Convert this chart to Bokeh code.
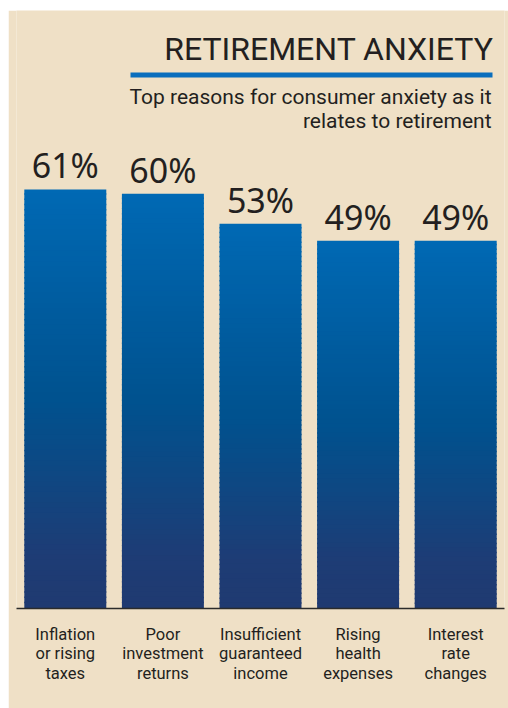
from bokeh.plotting import figure
from bokeh.models import ColumnDataSource, Range1d, Label, BoxAnnotation, Spacer
from bokeh.layouts import row, column
from bokeh.embed import file_html
from bokeh.resources import INLINE
from bokeh.core.properties import value
import numpy as np

# ---- data ----
categories = [
    "Inflation\nor rising\ntaxes",
    "Poor\ninvestment\nreturns",
    "Insufficient\nguaranteed\nincome",
    "Rising\nhealth\nexpenses",
    "Interest\nrate\nchanges",
]
percent = [61, 60, 53, 49, 49]
value_labels = [f"{v}%" for v in percent]
title_text = "RETIREMENT ANXIETY"
subtitle_lines = ["Top reasons for consumer anxiety as it", "relates to retirement"]

# ---- style ----
BG = "#EFE0C6"
INK = "#231F20"
SANS = "Roboto"
stops = [(0.0, "#0069B4"), (0.5, "#00528F"), (0.88, "#1E3C75"), (1.0, "#1F3A71")]


def hex2rgb(h):
    h = h.lstrip("#")
    return np.array([int(h[i:i + 2], 16) for i in (0, 2, 4)], dtype=float)


def grad(t):
    for (t0, c0), (t1, c1) in zip(stops[:-1], stops[1:]):
        if t <= t1:
            f = (t - t0) / (t1 - t0)
            c = hex2rgb(c0) * (1 - f) + hex2rgb(c1) * f
            return "#%02x%02x%02x" % tuple(int(round(v)) for v in c)
    return stops[-1][1]


y_start, y_end = -37.0, 102.85

p = figure(
    width=500, height=698,
    x_range=categories, y_range=Range1d(y_start, y_end),
    output_backend="svg", toolbar_location=None,
    min_border_left=8, min_border_right=4, min_border_top=0, min_border_bottom=100,
    y_axis_location=None,
)
p.background_fill_color = BG
p.border_fill_color = BG
p.outline_line_color = None
p.grid.visible = False

# gradient bars as stacked slices
N = 80
overlap = 0.35
xs, bots, tops, cols = [], [], [], []
for c, v in zip(categories, percent):
    h = v - y_start
    for k in range(N):
        t_top = v - h * k / N
        tops.append(t_top if k == 0 else t_top + overlap)
        bots.append(v - h * (k + 1) / N)
        cols.append(grad((k + 0.5) / N))
        xs.append(c)
src = ColumnDataSource(dict(x=xs, bottom=bots, top=tops, color=cols))
p.vbar(x="x", bottom="bottom", top="top", width=0.84, source=src,
       fill_color="color", line_color=None)

# value labels
lsrc = ColumnDataSource(dict(x=categories, y=percent, t=value_labels))
p.text(x="x", y="y", text="t", source=lsrc, text_align="center",
       text_baseline="alphabetic", y_offset=-24,
       text_font=value("Noto Sans"), text_font_size="34px", text_color=INK)

# axis
ax = p.xaxis[0]
ax.axis_line_color = "#2B2B2B"
ax.axis_line_width = 1.6
ax.major_tick_line_color = None
ax.minor_tick_line_color = None
ax.major_label_standoff = 10
ax.major_label_text_font = SANS
ax.major_label_text_font_size = "16.5px"
ax.major_label_text_color = INK
ax.major_label_text_line_height = 1.04

# title, rule, subtitle
p.add_layout(Label(x=477, y=560, x_units="screen", y_units="screen", text=title_text,
                   text_align="right", text_baseline="alphabetic",
                   text_font=SANS, text_font_size="32px", text_color=INK))
p.add_layout(BoxAnnotation(left=114, right=476, bottom=531, top=536,
                           left_units="screen", right_units="screen",
                           bottom_units="screen", top_units="screen",
                           fill_color="#0A6EBD", fill_alpha=1.0, line_color=None))
for i, line in enumerate(subtitle_lines):
    p.add_layout(Label(x=475, y=512 - 24 * i, x_units="screen", y_units="screen", text=line,
                       text_align="right", text_baseline="alphabetic",
                       text_font=SANS, text_font_size="21px", text_color=INK))

layout = row(Spacer(width=8), column(Spacer(height=10), p))
open("out.html", "w").write(file_html(layout, INLINE))
